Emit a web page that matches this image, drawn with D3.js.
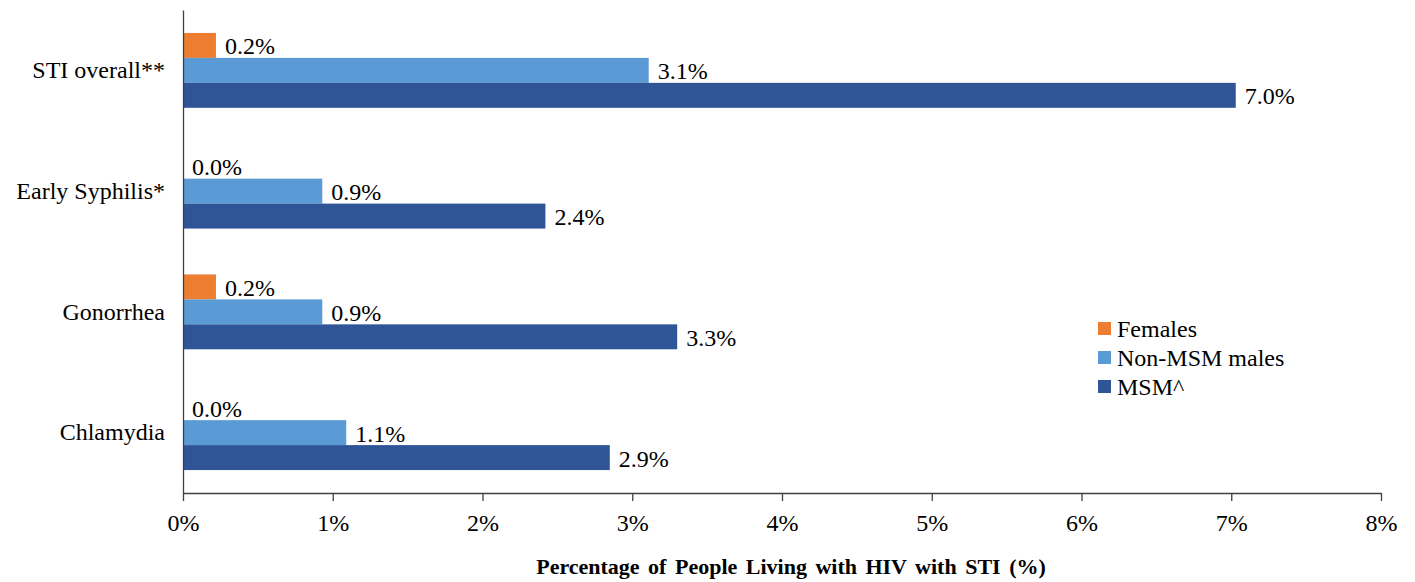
<!DOCTYPE html>
<html><head><meta charset="utf-8">
<script src="https://cdn.jsdelivr.net/npm/d3@7"></script>
<style>body{margin:0;background:#fff}svg{display:block}text{font-family:"Liberation Serif","Times New Roman",serif;fill:#000}</style>
</head><body><svg id="c" width="1415" height="582"></svg>
<script>
const categories = ["STI overall**", "Early Syphilis*", "Gonorrhea", "Chlamydia"];
const seriesNames = ["Females", "Non-MSM males", "MSM^"];
const females = [0.22, 0.0, 0.22, 0.0];
const nonMsm = [3.11, 0.93, 0.93, 1.09];
const msm = [7.03, 2.42, 3.30, 2.85];
const labelFemales = ["0.2%", "0.0%", "0.2%", "0.0%"];
const labelNonMsm = ["3.1%", "0.9%", "0.9%", "1.1%"];
const labelMsm = ["7.0%", "2.4%", "3.3%", "2.9%"];
const tickValues = [0,1,2,3,4,5,6,7,8];
const colors = ["#ED7D31", "#5B9BD5", "#2F5597"];
const xTitle = "Percentage of People Living with HIV with STI (%)";

const FS = 24;
const svg = d3.select("#c");
const pLeft = 183, pRight = 1381, pTop = 10, pBottom = 493;
const x = d3.scaleLinear().domain([0, 8]).range([pLeft, pRight]);
const y = d3.scaleBand().domain(categories).range([pTop, pBottom]).paddingInner(0.38).paddingOuter(0.19);
const yIn = d3.scaleBand().domain(seriesNames).range([0, y.bandwidth()]);

const series = [females, nonMsm, msm];
const labels = [labelFemales, labelNonMsm, labelMsm];

seriesNames.forEach((s, si) => {
  const g = svg.append("g");
  g.selectAll("rect").data(categories).join("rect")
    .attr("x", x(0))
    .attr("y", c => y(c) + yIn(s))
    .attr("width", (c, i) => x(series[si][i]) - x(0))
    .attr("height", yIn.bandwidth())
    .attr("fill", colors[si]);
  g.selectAll("text").data(categories).join("text")
    .attr("x", (c, i) => x(series[si][i]) + 9)
    .attr("y", c => y(c) + yIn(s) + yIn.bandwidth() / 2 + 1)
    .attr("dominant-baseline", "central")
    .attr("font-size", FS)
    .text((c, i) => labels[si][i]);
});

// axes
const xAxis = d3.axisBottom(x).tickValues(tickValues).tickFormat(d => d + "%").tickSize(8).tickSizeOuter(0);
const gx = svg.append("g").attr("transform", `translate(0,${pBottom})`).call(xAxis);
gx.select(".domain").attr("stroke", "#404040").attr("stroke-width", 1.3);
gx.selectAll(".tick line").attr("stroke", "#404040").attr("stroke-width", 1.3);
gx.selectAll(".tick text").attr("font-size", FS).attr("font-family", '"Liberation Serif",serif').attr("fill", "#000").attr("dy", "0").attr("y", 38);

const yAxis = d3.axisLeft(y).tickSize(0).tickPadding(18);
const gy = svg.append("g").attr("transform", `translate(${pLeft},0)`).call(yAxis);
gy.select(".domain").attr("stroke", "#404040").attr("stroke-width", 1.3);
gy.selectAll(".tick text").attr("font-size", FS).attr("font-family", '"Liberation Serif",serif').attr("fill", "#000");

svg.append("text").attr("x", 791).attr("y", 574).attr("text-anchor", "middle")
  .attr("font-size", 22).attr("font-weight", "bold").attr("word-spacing", 3).text(xTitle);

// legend
const lg = svg.append("g").attr("transform", "translate(1098,316)");
seriesNames.forEach((s, i) => {
  lg.append("rect").attr("x", 0).attr("y", i * 29 + 6).attr("width", 13).attr("height", 13).attr("fill", colors[i]);
  lg.append("text").attr("x", 19).attr("y", i * 29 + 13).attr("dominant-baseline", "central").attr("font-size", FS).text(s);
});
</script></body></html>
